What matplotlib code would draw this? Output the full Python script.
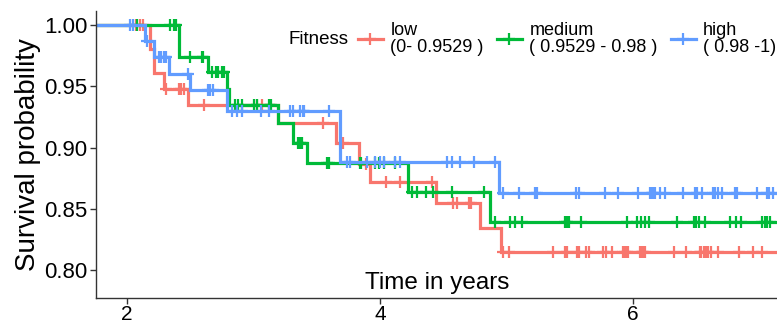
import numpy as np
import matplotlib
matplotlib.use("Agg")
import matplotlib.pyplot as plt
from matplotlib.lines import Line2D

plt.rcParams['font.family'] = ['Liberation Sans', 'DejaVu Sans']

labels = ["low\n(0- 0.9529 )", "medium\n( 0.9529 - 0.98 )", "high\n( 0.98 -1)"]
colors = ["#F8766D", "#00BA38", "#619CFF"]

# Kaplan-Meier step data (time of event, survival after event)
low_t = [0, 2.18, 2.21, 2.29, 2.48, 3.19, 3.65, 3.83, 3.92, 4.44, 4.79, 4.96]
low_s = [1.0, 0.98, 0.961, 0.948, 0.9345, 0.92, 0.904, 0.887, 0.8716, 0.855, 0.834, 0.815]
low_c = [2.07, 2.10, 2.13, 2.31, 2.41, 2.43, 2.45, 2.61, 3.03, 3.07, 3.13, 3.55, 3.71,
         3.89, 4.05, 4.16, 4.41, 4.58, 4.61, 4.70, 4.72, 4.97, 5.02, 5.37, 5.46, 5.48,
         5.555, 5.57, 5.63, 5.65, 5.765, 5.79, 5.83, 5.92, 5.94, 5.95, 5.96, 6.055, 6.07,
         6.08, 6.095, 6.32, 6.42, 6.53, 6.54, 6.56, 6.58, 6.595, 6.62, 6.67, 6.84, 6.95, 7.02]

med_t = [0, 2.41, 2.64, 2.79, 2.81, 3.19, 3.31, 3.42, 4.22, 4.87]
med_s = [1.0, 0.974, 0.962, 0.948, 0.9347, 0.92, 0.9035, 0.8876, 0.864, 0.8395]
med_c = [2.08, 2.34, 2.37, 2.39, 2.50, 2.59, 2.60, 2.67, 2.70, 2.72, 2.75, 2.77, 2.85,
         2.88, 2.91, 3.00, 3.03, 3.12, 3.14, 3.35, 3.37, 3.38, 3.58, 3.60, 3.84, 3.85,
         3.96, 3.99, 4.03, 4.12, 4.25, 4.29, 4.36, 4.42, 4.57, 4.82, 4.91, 5.03, 5.07,
         5.12, 5.46, 5.475, 5.49, 5.59, 5.95, 6.03, 6.06, 6.095, 6.13, 6.345, 6.48, 6.50,
         6.52, 6.57, 6.77, 6.81, 6.85, 7.02, 7.04, 7.06, 7.08]

high_t = [0, 2.14, 2.21, 2.33, 2.50, 2.79, 3.68, 4.94]
high_s = [1.0, 0.9867, 0.974, 0.960, 0.947, 0.930, 0.8885, 0.8627]
high_c = [2.02, 2.05, 2.16, 2.25, 2.27, 2.29, 2.31, 2.485, 2.64, 2.66, 2.68, 2.83, 2.87,
          2.91, 3.06, 3.12, 3.29, 3.31, 3.37, 3.39, 3.40, 3.60, 3.74, 3.76, 3.90, 3.96,
          4.00, 4.03, 4.12, 4.16, 4.53, 4.57, 4.63, 4.74, 4.91, 4.975, 5.10, 5.225, 5.24,
          5.55, 5.57, 5.78, 5.88, 6.04, 6.134, 6.148, 6.16, 6.174, 6.213, 6.253, 6.398,
          6.49, 6.504, 6.543, 6.63, 6.648, 6.674, 6.70, 6.806, 6.824, 6.978, 7.057, 7.077,
          7.109]

x_ticks = [2, 4, 6]
y_ticks = [0.80, 0.85, 0.90, 0.95, 1.00]
XMAX = 7.3

fig = plt.figure(figsize=(7.77, 3.25), dpi=100)
ax = fig.add_axes([96/777, 27/325, 1 - 96/777, (298-11)/325])

series = [(low_t, low_s, low_c), (med_t, med_s, med_c), (high_t, high_s, high_c)]
handles = []
for (t, s, c), col, lab in zip(series, colors, labels):
    tt = list(t) + [XMAX]
    ss = list(s) + [s[-1]]
    ax.step(tt, ss, where='post', color=col, lw=2.3, solid_joinstyle='miter')
    c = np.asarray(c)
    idx = np.searchsorted(np.asarray(t), c, side='right') - 1
    cs = np.asarray(s)[idx]
    ax.plot(c, cs, ls='none', marker='+', ms=9, mew=1.6, color=col)
    handles.append(Line2D([], [], color=col, lw=2.3, marker='+', ms=9, mew=1.6))

ax.set_xlim(1.755, 7.138)
ax.set_ylim(0.7773, 1.0114)
ax.set_xticks(x_ticks)
ax.set_xticklabels([str(v) for v in x_ticks])
ax.set_yticks(y_ticks)
ax.set_yticklabels([f"{v:.2f}" for v in y_ticks])
for sp in ['top', 'right']:
    ax.spines[sp].set_visible(False)
for sp in ['left', 'bottom']:
    ax.spines[sp].set_color('#333333')
    ax.spines[sp].set_linewidth(1.0)
ax.tick_params(axis='both', direction='out', length=4, width=1, color='#333333',
               labelcolor='black')
ax.tick_params(axis='y', labelsize=16, pad=2)
ax.tick_params(axis='x', labelsize=15, pad=1)

fig.text(28/777, 1 - 154.5/325, "Survival probability", ha='center', va='center',
         rotation=90, fontsize=20)
fig.text(437/777, 1 - 283/325, "Time in years", ha='center', va='center', fontsize=17.5)

fig.text(288/777, 1 - 40/325, "Fitness", ha='left', va='center', fontsize=13.5)
leg = fig.legend(handles, labels, loc='center left', bbox_to_anchor=(358/777, 1 - 39/325),
                 ncol=3, frameon=False, fontsize=13, handlelength=1.38, handletextpad=0.42,
                 columnspacing=0.72, borderpad=0, borderaxespad=0)
for txt in leg.get_texts():
    txt.set_linespacing(0.95)

fig.savefig("out.png", dpi=100)
